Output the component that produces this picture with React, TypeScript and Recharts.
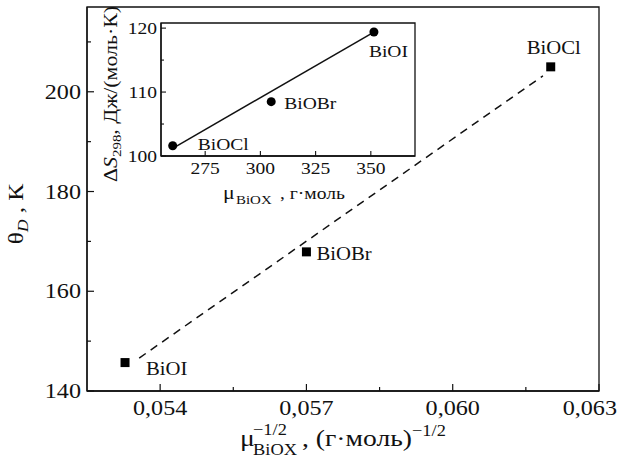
import React from 'react';
import { ScatterChart, Scatter, XAxis, YAxis, ReferenceArea } from 'recharts';

const FONT = '"Liberation Serif", "Times New Roman", serif';
const STRETCH = 1.15;

// main plot: Debye temperature vs mu^-1/2
const MAIN_NAMES = ['BiOI', 'BiOBr', 'BiOCl'];
const MAIN_MU = [0.05328, 0.057, 0.06201];
const MAIN_THETA = [145.7, 167.9, 205.0];
const MAIN_FIT_MU = [0.05357, 0.06185];
const MAIN_FIT_THETA = [146.6, 203.2];
const MAIN_X_DOMAIN = [0.0525, 0.063];
const MAIN_Y_DOMAIN = [140, 217];
const MAIN_X_TICKS = [0.054, 0.0555, 0.057, 0.0585, 0.06, 0.0615, 0.063];
const MAIN_X_MAJOR = [0.054, 0.057, 0.06, 0.063];
const MAIN_Y_TICKS = [140, 150, 160, 170, 180, 190, 200, 210];
const MAIN_Y_MAJOR = [140, 160, 180, 200];

// inset: entropy vs molar mass
const INSET_NAMES = ['BiOCl', 'BiOBr', 'BiOI'];
const INSET_MASS = [260.3, 304.9, 351.4];
const INSET_DS = [101.6, 108.5, 119.4];
const INSET_FIT_MASS = [260.3, 351.0];
const INSET_FIT_DS = [101.2, 119.3];
const INSET_X_DOMAIN = [255, 370];
const INSET_Y_DOMAIN = [100, 120.8];
const INSET_X_TICKS = [275, 300, 325, 350];
const INSET_Y_TICKS = [100, 105, 110, 115, 120];
const INSET_Y_MAJOR = [100, 110, 120];

const mainPoints = MAIN_NAMES.map((name, i) => ({ name, x: MAIN_MU[i], y: MAIN_THETA[i] }));
const mainFit = MAIN_FIT_MU.map((x, i) => ({ x, y: MAIN_FIT_THETA[i] }));
const insetPoints = INSET_NAMES.map((name, i) => ({ name, x: INSET_MASS[i], y: INSET_DS[i] }));
const insetFit = INSET_FIT_MASS.map((x, i) => ({ x, y: INSET_FIT_DS[i] }));

// where the point names sit relative to their marker
const MAIN_LABEL_POS: Record<string, [number, number]> = {
  BiOI: [21, 12],
  BiOBr: [10, 8.5],
  BiOCl: [-24, -12.5],
};
const INSET_LABEL_POS: Record<string, [number, number]> = {
  BiOCl: [25, 4.5],
  BiOBr: [13, 7],
  BiOI: [-5, 25.5],
};

// Times-like text, widened along the reading direction like the scanned figure
function SText({ x, y, size, anchor = 'start', rotate = false, italic = false, children }: any) {
  const t = rotate
    ? `translate(${x},${y}) scale(1,${STRETCH}) rotate(-90)`
    : `translate(${x},${y}) scale(${STRETCH},1)`;
  return (
    <text
      transform={t}
      textAnchor={anchor}
      fontSize={size}
      fontFamily={FONT}
      fontStyle={italic ? 'italic' : 'normal'}
      fill="#111"
    >
      {children}
    </text>
  );
}

const fmtComma = (v: number) => v.toFixed(3).replace('.', ',');

function MainXTick({ x, y, payload }: any) {
  const major = MAIN_X_MAJOR.includes(payload.value);
  const last = payload.value === MAIN_X_TICKS[MAIN_X_TICKS.length - 1];
  return (
    <g>
      <line x1={x} y1={y} x2={x} y2={y - (major ? 7 : 4)} stroke="#111" strokeWidth={1.2} />
      {major && (
        <SText x={last ? x + 18 : x} y={y + 24} size={21} anchor={last ? 'end' : 'middle'}>
          {fmtComma(payload.value)}
        </SText>
      )}
    </g>
  );
}

function MainYTick({ x, y, payload }: any) {
  const major = MAIN_Y_MAJOR.includes(payload.value);
  return (
    <g>
      <line x1={x} y1={y} x2={x + (major ? 7 : 4)} y2={y} stroke="#111" strokeWidth={1.2} />
      {major && (
        <SText x={x - 6} y={y + 7} size={21} anchor="end">
          {payload.value}
        </SText>
      )}
    </g>
  );
}

function InsetXTick({ x, y, payload }: any) {
  return (
    <g>
      <line x1={x} y1={y} x2={x} y2={y - 5} stroke="#111" strokeWidth={1.1} />
      <SText x={x} y={y + 17.5} size={17} anchor="middle">
        {payload.value}
      </SText>
    </g>
  );
}

function InsetYTick({ x, y, payload }: any) {
  const major = INSET_Y_MAJOR.includes(payload.value);
  return (
    <g>
      <line x1={x} y1={y} x2={x + (major ? 5 : 3)} y2={y} stroke="#111" strokeWidth={1.1} />
      {major && (
        <SText x={x - 4} y={y + 6} size={17} anchor="end">
          {payload.value}
        </SText>
      )}
    </g>
  );
}

function MainXTitle() {
  return (
    <g>
      <SText x={240} y={446} size={24}>μ</SText>
      <SText x={253} y={435} size={16}>−1/2</SText>
      <SText x={253} y={455} size={16}>BiOX</SText>
      <SText x={302} y={446} size={24}>, (г·моль)</SText>
      <SText x={412} y={436} size={16}>−1/2</SText>
    </g>
  );
}

function MainYTitle() {
  return (
    <SText x={23} y={214} size={22} anchor="middle" rotate>
      θ
      <tspan fontStyle="italic" fontSize={15} dy={5}>D</tspan>
      <tspan dy={-5}> , К</tspan>
    </SText>
  );
}

function InsetXTitle() {
  return (
    <g>
      <SText x={223} y={199} size={19}>μ</SText>
      <SText x={236} y={204} size={13}>BiOX</SText>
      <SText x={280} y={199} size={17}>, г·моль</SText>
    </g>
  );
}

function InsetYTitle() {
  return (
    <SText x={117} y={94} size={19} anchor="middle" rotate>
      Δ
      <tspan fontStyle="italic">S</tspan>
      <tspan fontSize={13} dy={4}>298</tspan>
      <tspan dy={-4}>, Дж/(моль·К)</tspan>
    </SText>
  );
}

function SquareMarker({ cx, cy, payload }: any) {
  const [dx, dy] = MAIN_LABEL_POS[payload.name] || [10, 5];
  return (
    <g>
      <rect x={cx - 4.5} y={cy - 4.5} width={9} height={9} fill="#000" />
      <SText x={cx + dx} y={cy + dy} size={18}>{payload.name}</SText>
    </g>
  );
}

function DotMarker({ cx, cy, payload }: any) {
  const [dx, dy] = INSET_LABEL_POS[payload.name] || [10, 5];
  return (
    <g>
      <circle cx={cx} cy={cy} r={4.5} fill="#000" />
      <SText x={cx + dx} y={cy + dy} size={17}>{payload.name}</SText>
    </g>
  );
}

const noShape = () => <g />;
const axisLine = { stroke: '#111', strokeWidth: 1.3 };

export default function App() {
  return (
    <div style={{ position: 'absolute', left: 0, top: 0, width: 620, height: 461, background: '#fff' }}>
      <div style={{ position: 'absolute', left: 0, top: 0 }}>
        <ScatterChart width={620} height={461} margin={{ top: 7, right: 21, bottom: 0, left: 0 }}>
          <XAxis
            type="number"
            dataKey="x"
            domain={MAIN_X_DOMAIN}
            allowDataOverflow
            ticks={MAIN_X_TICKS}
            interval={0}
            tickSize={0}
            tickMargin={0}
            tickLine={false}
            tick={(p: any) => <MainXTick {...p} />}
            axisLine={axisLine}
            height={70}
            label={<MainXTitle />}
          />
          <YAxis
            type="number"
            dataKey="y"
            domain={MAIN_Y_DOMAIN}
            allowDataOverflow
            ticks={MAIN_Y_TICKS}
            interval={0}
            tickSize={0}
            tickMargin={0}
            tickLine={false}
            tick={(p: any) => <MainYTick {...p} />}
            axisLine={axisLine}
            width={87}
            label={<MainYTitle />}
          />
          <ReferenceArea
            x1={MAIN_X_DOMAIN[0]}
            x2={MAIN_X_DOMAIN[1]}
            y1={MAIN_Y_DOMAIN[0]}
            y2={MAIN_Y_DOMAIN[1]}
            fill="none"
            stroke="#111"
            strokeWidth={1.3}
          />
          <Scatter
            data={mainFit}
            line={{ stroke: '#111', strokeWidth: 1.5, strokeDasharray: '8 6' }}
            shape={noShape}
            isAnimationActive={false}
          />
          <Scatter data={mainPoints} shape={(p: any) => <SquareMarker {...p} />} isAnimationActive={false} />
        </ScatterChart>
      </div>
      <div style={{ position: 'absolute', left: 0, top: 0, pointerEvents: 'none' }}>
        <ScatterChart width={620} height={461} margin={{ top: 23, right: 205, bottom: 0, left: 0 }}>
          <XAxis
            type="number"
            dataKey="x"
            domain={INSET_X_DOMAIN}
            allowDataOverflow
            ticks={INSET_X_TICKS}
            interval={0}
            tickSize={0}
            tickMargin={0}
            tickLine={false}
            tick={(p: any) => <InsetXTick {...p} />}
            axisLine={axisLine}
            height={305}
            label={<InsetXTitle />}
          />
          <YAxis
            type="number"
            dataKey="y"
            domain={INSET_Y_DOMAIN}
            allowDataOverflow
            ticks={INSET_Y_TICKS}
            interval={0}
            tickSize={0}
            tickMargin={0}
            tickLine={false}
            tick={(p: any) => <InsetYTick {...p} />}
            axisLine={axisLine}
            width={161}
            label={<InsetYTitle />}
          />
          <ReferenceArea
            x1={INSET_X_DOMAIN[0]}
            x2={INSET_X_DOMAIN[1]}
            y1={INSET_Y_DOMAIN[0]}
            y2={INSET_Y_DOMAIN[1]}
            fill="none"
            stroke="#111"
            strokeWidth={1.3}
          />
          <Scatter
            data={insetFit}
            line={{ stroke: '#111', strokeWidth: 1.5 }}
            shape={noShape}
            isAnimationActive={false}
          />
          <Scatter data={insetPoints} shape={(p: any) => <DotMarker {...p} />} isAnimationActive={false} />
        </ScatterChart>
      </div>
    </div>
  );
}
